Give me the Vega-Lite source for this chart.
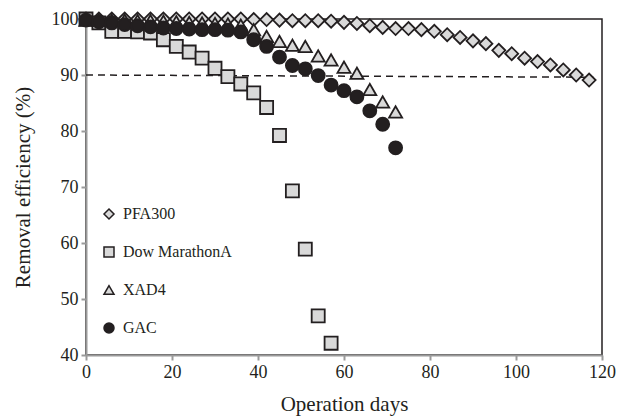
{
  "$schema": "https://vega.github.io/schema/vega-lite/v6.json",
  "autosize": "none",
  "width": 516,
  "height": 336,
  "padding": {"left": 86, "top": 19, "right": 18, "bottom": 61},
  "background": "white",
  "config": {
    "view": {"stroke": "#231f20", "strokeWidth": 1.5},
    "axis": {
      "labelFont": "Liberation Serif",
      "titleFont": "Liberation Serif",
      "labelFontSize": 18,
      "titleFontSize": 21,
      "titleFontWeight": "normal",
      "labelColor": "#231f20",
      "titleColor": "#231f20",
      "domainColor": "#9a9a9a",
      "domainWidth": 2,
      "tickColor": "#9a9a9a",
      "tickWidth": 2,
      "tickSize": 5,
      "grid": false,
      "labelFlush": false,
      "labelOverlap": false,
      "labelPadding": 3
    },
    "legend": {
      "labelFont": "Liberation Serif",
      "labelFontSize": 16,
      "labelColor": "#231f20"
    }
  },
  "datasets": {
    "pts": [
      {"series": "PFA300", "day": 0, "eff": 100}, {"series": "PFA300", "day": 3, "eff": 100}, {"series": "PFA300", "day": 6, "eff": 100}, {"series": "PFA300", "day": 9, "eff": 100}, {"series": "PFA300", "day": 12, "eff": 100}, {"series": "PFA300", "day": 15, "eff": 100}, {"series": "PFA300", "day": 18, "eff": 100}, {"series": "PFA300", "day": 21, "eff": 100}, {"series": "PFA300", "day": 24, "eff": 100}, {"series": "PFA300", "day": 27, "eff": 100}, {"series": "PFA300", "day": 30, "eff": 100}, {"series": "PFA300", "day": 33, "eff": 100}, {"series": "PFA300", "day": 36, "eff": 100}, {"series": "PFA300", "day": 39, "eff": 99.9}, {"series": "PFA300", "day": 42, "eff": 99.9}, {"series": "PFA300", "day": 45, "eff": 99.8}, {"series": "PFA300", "day": 48, "eff": 99.7}, {"series": "PFA300", "day": 51, "eff": 99.7}, {"series": "PFA300", "day": 54, "eff": 99.7}, {"series": "PFA300", "day": 57, "eff": 99.6}, {"series": "PFA300", "day": 60, "eff": 99.4}, {"series": "PFA300", "day": 63, "eff": 99.2}, {"series": "PFA300", "day": 66, "eff": 98.8}, {"series": "PFA300", "day": 69, "eff": 98.5}, {"series": "PFA300", "day": 72, "eff": 98.3}, {"series": "PFA300", "day": 75, "eff": 98.3}, {"series": "PFA300", "day": 78, "eff": 98.1}, {"series": "PFA300", "day": 81, "eff": 97.8}, {"series": "PFA300", "day": 84, "eff": 97.2}, {"series": "PFA300", "day": 87, "eff": 96.7}, {"series": "PFA300", "day": 90, "eff": 96.1}, {"series": "PFA300", "day": 93, "eff": 95.6}, {"series": "PFA300", "day": 96, "eff": 94.4}, {"series": "PFA300", "day": 99, "eff": 93.8}, {"series": "PFA300", "day": 102, "eff": 93.0}, {"series": "PFA300", "day": 105, "eff": 92.4}, {"series": "PFA300", "day": 108, "eff": 91.8}, {"series": "PFA300", "day": 111, "eff": 90.9}, {"series": "PFA300", "day": 114, "eff": 90.0}, {"series": "PFA300", "day": 117, "eff": 89.1},
      {"series": "Dow MarathonA", "day": 0, "eff": 100}, {"series": "Dow MarathonA", "day": 3, "eff": 99.3}, {"series": "Dow MarathonA", "day": 6, "eff": 97.8}, {"series": "Dow MarathonA", "day": 9, "eff": 97.8}, {"series": "Dow MarathonA", "day": 12, "eff": 97.7}, {"series": "Dow MarathonA", "day": 15, "eff": 97.5}, {"series": "Dow MarathonA", "day": 18, "eff": 96.3}, {"series": "Dow MarathonA", "day": 21, "eff": 95.1}, {"series": "Dow MarathonA", "day": 24, "eff": 94.1}, {"series": "Dow MarathonA", "day": 27, "eff": 93.0}, {"series": "Dow MarathonA", "day": 30, "eff": 91.2}, {"series": "Dow MarathonA", "day": 33, "eff": 89.7}, {"series": "Dow MarathonA", "day": 36, "eff": 88.4}, {"series": "Dow MarathonA", "day": 39, "eff": 86.8}, {"series": "Dow MarathonA", "day": 42, "eff": 84.2}, {"series": "Dow MarathonA", "day": 45, "eff": 79.2}, {"series": "Dow MarathonA", "day": 48, "eff": 69.3}, {"series": "Dow MarathonA", "day": 51, "eff": 58.9}, {"series": "Dow MarathonA", "day": 54, "eff": 47.0}, {"series": "Dow MarathonA", "day": 57, "eff": 42.1},
      {"series": "XAD4", "day": 0, "eff": 99.8}, {"series": "XAD4", "day": 3, "eff": 99.8}, {"series": "XAD4", "day": 6, "eff": 99.8}, {"series": "XAD4", "day": 9, "eff": 99.8}, {"series": "XAD4", "day": 12, "eff": 99.7}, {"series": "XAD4", "day": 15, "eff": 99.7}, {"series": "XAD4", "day": 18, "eff": 99.6}, {"series": "XAD4", "day": 21, "eff": 99.5}, {"series": "XAD4", "day": 24, "eff": 99.4}, {"series": "XAD4", "day": 27, "eff": 99.3}, {"series": "XAD4", "day": 30, "eff": 99.2}, {"series": "XAD4", "day": 33, "eff": 99.1}, {"series": "XAD4", "day": 36, "eff": 98.9}, {"series": "XAD4", "day": 39, "eff": 98.1}, {"series": "XAD4", "day": 42, "eff": 96.9}, {"series": "XAD4", "day": 45, "eff": 96.0}, {"series": "XAD4", "day": 48, "eff": 95.3}, {"series": "XAD4", "day": 51, "eff": 95.1}, {"series": "XAD4", "day": 54, "eff": 93.4}, {"series": "XAD4", "day": 57, "eff": 92.7}, {"series": "XAD4", "day": 60, "eff": 91.4}, {"series": "XAD4", "day": 63, "eff": 90.3}, {"series": "XAD4", "day": 66, "eff": 87.4}, {"series": "XAD4", "day": 69, "eff": 85.2}, {"series": "XAD4", "day": 72, "eff": 83.4},
      {"series": "GAC", "day": 0, "eff": 99.8}, {"series": "GAC", "day": 3, "eff": 99.5}, {"series": "GAC", "day": 6, "eff": 99.3}, {"series": "GAC", "day": 9, "eff": 99.0}, {"series": "GAC", "day": 12, "eff": 98.8}, {"series": "GAC", "day": 15, "eff": 98.6}, {"series": "GAC", "day": 18, "eff": 98.4}, {"series": "GAC", "day": 21, "eff": 98.3}, {"series": "GAC", "day": 24, "eff": 98.2}, {"series": "GAC", "day": 27, "eff": 98.1}, {"series": "GAC", "day": 30, "eff": 98.1}, {"series": "GAC", "day": 33, "eff": 98.0}, {"series": "GAC", "day": 36, "eff": 97.7}, {"series": "GAC", "day": 39, "eff": 96.3}, {"series": "GAC", "day": 42, "eff": 95.1}, {"series": "GAC", "day": 45, "eff": 93.2}, {"series": "GAC", "day": 48, "eff": 91.7}, {"series": "GAC", "day": 51, "eff": 91.1}, {"series": "GAC", "day": 54, "eff": 89.9}, {"series": "GAC", "day": 57, "eff": 88.2}, {"series": "GAC", "day": 60, "eff": 87.2}, {"series": "GAC", "day": 63, "eff": 86.1}, {"series": "GAC", "day": 66, "eff": 83.6}, {"series": "GAC", "day": 69, "eff": 81.2}, {"series": "GAC", "day": 72, "eff": 77.0}
    ],
    "ref": [
      {"day": 0, "eff": 90.0},
      {"day": 118, "eff": 89.6}
    ]
  },
  "layer": [
    {
      "data": {"name": "ref"},
      "mark": {"type": "line", "color": "#231f20", "strokeWidth": 1.5, "strokeDash": [7, 5]},
      "encoding": {
        "x": {"field": "day", "type": "quantitative"},
        "y": {"field": "eff", "type": "quantitative"}
      }
    },
    {
      "data": {"name": "pts"},
      "mark": {"type": "point", "filled": true, "size": 170, "strokeWidth": 1.8, "stroke": "#231f20", "opacity": 1},
      "encoding": {
        "x": {
          "field": "day", "type": "quantitative",
          "scale": {"domain": [0, 120], "nice": false, "zero": false},
          "axis": {"values": [0, 20, 40, 60, 80, 100, 120], "title": "Operation days", "titlePadding": 12}
        },
        "y": {
          "field": "eff", "type": "quantitative",
          "scale": {"domain": [40, 100], "nice": false, "zero": false},
          "axis": {"values": [40, 50, 60, 70, 80, 90, 100], "title": "Removal efficiency (%)", "titlePadding": 18}
        },
        "shape": {
          "field": "series", "type": "nominal",
          "scale": {"domain": ["PFA300", "Dow MarathonA", "XAD4", "GAC"], "range": ["diamond", "square", "triangle-up", "circle"]},
          "legend": {
            "title": null, "orient": "none", "legendX": 15, "legendY": 187,
            "symbolSize": 100, "symbolStrokeWidth": 1.5, "rowPadding": 22, "labelOffset": 6, "padding": 0
          }
        },
        "fill": {
          "field": "series", "type": "nominal",
          "scale": {"domain": ["PFA300", "Dow MarathonA", "XAD4", "GAC"], "range": ["#d9d9d9", "#d9d9d9", "#d9d9d9", "#231f20"]},
          "legend": null
        }
      }
    }
  ]
}
